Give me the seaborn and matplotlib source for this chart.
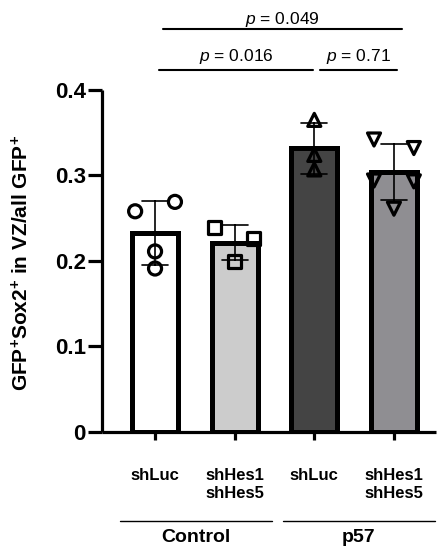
import numpy as np
import pandas as pd
import matplotlib
matplotlib.use("Agg")
import matplotlib.pyplot as plt
import seaborn as sns

# ---- data -------------------------------------------------------------
groups = ["Control shLuc", "Control shHes1/5", "p57 shLuc", "p57 shHes1/5"]
tick_labels = ["shLuc", "shHes1\nshHes5", "shLuc", "shHes1\nshHes5"]
ctrl_luc = [0.258, 0.269, 0.211, 0.191]
ctrl_hes = [0.239, 0.226, 0.199]
p57_luc = [0.365, 0.324, 0.307]
p57_hes = [0.342, 0.332, 0.294, 0.293, 0.261]
condition_names = ["Control", "p57"]
p_labels = ["0.016", "0.71", "0.049"]
ylabel = r"GFP$^{+}$Sox2$^{+}$ in VZ/all GFP$^{+}$"

series = [ctrl_luc, ctrl_hes, p57_luc, p57_hes]

# ---- styling ----------------------------------------------------------
bar_colors = ["#ffffff", "#cccccc", "#444444", "#8e8d93"]
markers = ["o", "s", "^", "v"]
# horizontal placement of individual points within each bar
point_offsets = [
    [-0.25, 0.25, 0.0, 0.0],
    [-0.25, 0.24, 0.0],
    [0.0, 0.0, 0.0],
    [-0.25, 0.25, -0.25, 0.25, 0.0],
]

sns.set_style("ticks")
plt.rcParams["font.family"] = ["Liberation Sans", "DejaVu Sans"]
plt.rcParams["mathtext.fontset"] = "custom"
plt.rcParams["mathtext.rm"] = "Liberation Sans:bold"
plt.rcParams["mathtext.bf"] = "Liberation Sans:bold"
plt.rcParams["mathtext.it"] = "Liberation Sans:italic"
plt.rcParams["text.color"] = "black"
plt.rcParams["axes.edgecolor"] = "black"
plt.rcParams["xtick.color"] = "black"
plt.rcParams["ytick.color"] = "black"

df = pd.DataFrame({
    "group": np.repeat(groups, [len(s) for s in series]),
    "value": np.concatenate(series),
})

fig = plt.figure(figsize=(4.37, 5.54), dpi=100)
ax = fig.add_axes([0.2327, 0.2208, 0.7653, 0.6168])

sns.barplot(
    data=df, x="group", y="value", hue="group", order=groups,
    hue_order=groups, palette=bar_colors, legend=False,
    errorbar="sd", capsize=0.33, width=0.58,
    edgecolor="black", linewidth=3.6,
    err_kws={"color": "black", "linewidth": 1.2},
    ax=ax,
)
for line in ax.lines:
    line.set_zorder(4)

for i, (vals, offs, m) in enumerate(zip(series, point_offsets, markers)):
    ax.scatter(np.array(offs) + i, vals, marker=m, s=88,
               facecolors="none", edgecolors="black", linewidths=2.3,
               zorder=5, clip_on=False)

# axes
ax.set_xlim(-0.67, 3.53)
ax.set_ylim(0, 0.4)
ax.set_yticks([0, 0.1, 0.2, 0.3, 0.4])
ax.set_yticklabels(["0", "0.1", "0.2", "0.3", "0.4"], fontsize=16,
                   fontweight="bold")
ax.set_xticks(range(len(groups)))
ax.set_xticklabels(tick_labels, fontsize=12, fontweight="bold",
                   linespacing=1.25, va="top")
ax.tick_params(axis="y", length=10, width=2.3, pad=1.5)
ax.tick_params(axis="x", length=6, width=2.3, pad=20)
ax.set_xlabel("")
ax.set_ylabel("")
for side in ["top", "right"]:
    ax.spines[side].set_visible(False)
for side in ["left", "bottom"]:
    ax.spines[side].set_linewidth(2.3)
    ax.spines[side].set_capstyle("butt")

fig.text(22 / 437, 1 - 263 / 554, ylabel, rotation=90, ha="center",
         va="center", fontsize=15, fontweight="bold")

# condition brackets below the x axis
xt = ax.get_xaxis_transform()
for (x0, x1), name in zip([(-0.44, 1.47), (1.61, 3.51)], condition_names):
    ax.plot([x0, x1], [-0.2605, -0.2605], color="black", lw=1.0,
            transform=xt, clip_on=False)
    ax.text((x0 + x1) / 2, -0.309, name, transform=xt, ha="center",
            va="center", fontsize=14, fontweight="bold")

# significance annotations
sig = [((0.054, 1.979), 0.4235, 0.4391, p_labels[0]),
       ((2.067, 3.04), 0.4235, 0.4391, p_labels[1]),
       ((0.097, 3.103), 0.4712, 0.483, p_labels[2])]
for (x0, x1), yl, yt, lab in sig:
    ax.plot([x0, x1], [yl, yl], color="black", lw=1.5, clip_on=False)
    ax.text((x0 + x1) / 2, yt, r"$p$" + " = " + lab, ha="center",
            va="center", fontsize=12.5)

fig.savefig("out.png", dpi=100)
